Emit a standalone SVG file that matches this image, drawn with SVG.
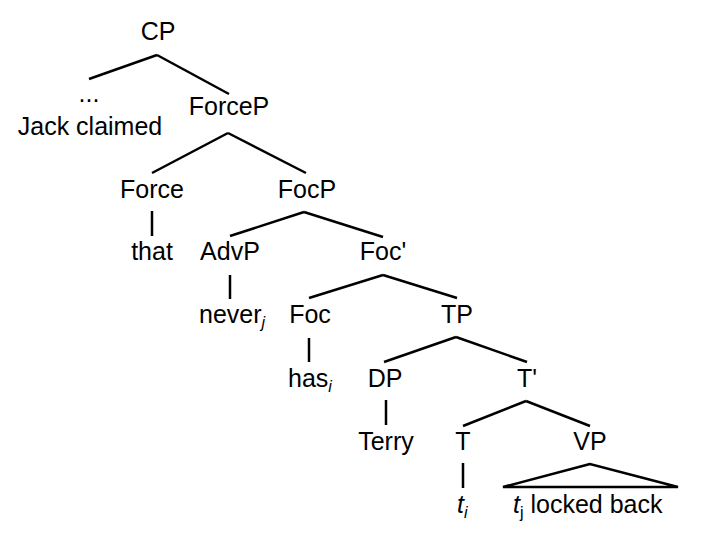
<svg xmlns="http://www.w3.org/2000/svg" width="720" height="535" viewBox="0 0 720 535">
<style>
text{font-family:"Liberation Sans",Arial,sans-serif;font-size:25px;fill:#000;text-anchor:middle}
.it{font-style:italic}
.sub{font-size:16px}
#edges line,#edges polygon{stroke:#000;stroke-width:2.5;fill:none;stroke-linecap:butt}
</style>
<rect width="720" height="535" fill="#fff"/>
<g id="edges">
<line x1="157" y1="55" x2="89" y2="79"/>
<line x1="157" y1="55" x2="229" y2="94"/>
<line x1="228" y1="133" x2="152" y2="173"/>
<line x1="228" y1="133" x2="306" y2="173"/>
<line x1="152" y1="211" x2="152" y2="236"/>
<line x1="304" y1="212" x2="230" y2="236"/>
<line x1="304" y1="212" x2="383" y2="237"/>
<line x1="230" y1="275" x2="230" y2="299"/>
<line x1="383" y1="275" x2="309" y2="298"/>
<line x1="383" y1="275" x2="457" y2="298"/>
<line x1="309" y1="338" x2="309" y2="362"/>
<line x1="456" y1="337" x2="384" y2="362"/>
<line x1="456" y1="337" x2="527" y2="362"/>
<line x1="386" y1="400" x2="386" y2="425"/>
<line x1="526" y1="401" x2="463" y2="426"/>
<line x1="526" y1="401" x2="590" y2="426"/>
<line x1="463" y1="463" x2="463" y2="488"/>
<polygon points="590,464 503,487 678,487"/>
</g>
<g id="n-CP"><text x="158" y="40">CP</text></g>
<g id="n-ellipsis"><text x="89" y="102">...</text><text x="90" y="135">Jack claimed</text></g>
<g id="n-ForceP"><text x="229" y="115">ForceP</text></g>
<g id="n-Force"><text x="152" y="198">Force</text></g>
<g id="n-that"><text x="152" y="260">that</text></g>
<g id="n-FocP"><text x="307" y="198">FocP</text></g>
<g id="n-AdvP"><text x="230" y="260">AdvP</text></g>
<g id="n-never"><text x="199" y="323" style="text-anchor:start">never<tspan class="sub it" dy="5">j</tspan></text></g>
<g id="n-Focbar"><text x="383" y="260">Foc'</text></g>
<g id="n-Foc"><text x="310" y="323">Foc</text></g>
<g id="n-TP"><text x="457" y="323">TP</text></g>
<g id="n-has"><text x="288" y="387" style="text-anchor:start">has<tspan class="sub it" dy="5">i</tspan></text></g>
<g id="n-DP"><text x="385" y="387">DP</text></g>
<g id="n-Tbar"><text x="527" y="387">T'</text></g>
<g id="n-Terry"><text x="386" y="450">Terry</text></g>
<g id="n-T"><text x="463" y="450">T</text></g>
<g id="n-VP"><text x="590" y="450">VP</text></g>
<g id="n-ti"><text x="457" y="513" style="text-anchor:start"><tspan class="it">t</tspan><tspan class="sub it" dy="5">i</tspan></text></g>
<g id="n-locked"><text x="513" y="513" style="text-anchor:start"><tspan class="it">t</tspan><tspan class="sub" dy="5">j</tspan><tspan dy="-5"> locked back</tspan></text></g>
</svg>
